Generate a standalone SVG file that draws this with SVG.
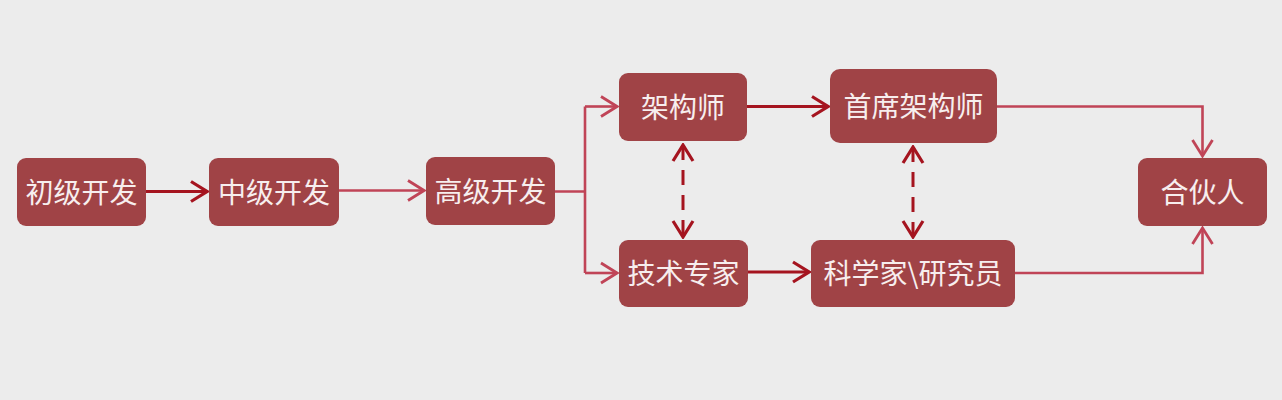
<svg xmlns="http://www.w3.org/2000/svg" width="1282" height="400" viewBox="0 0 1282 400">
<defs>
<style>
.box{fill:#a04346;}
.lbl{font-family:"Noto Sans CJK SC","Noto Sans",sans-serif;font-size:28px;fill:#f7eeee;text-anchor:middle;dominant-baseline:central;}
.dark{fill:none;stroke:#a5141f;stroke-width:3;}
.light{fill:none;stroke:#c04457;stroke-width:2.6;}
.dash{stroke-dasharray:15 10;}
</style>
<marker id="ad" viewBox="-20 -14 22 28" refX="0" refY="0" markerUnits="userSpaceOnUse" markerWidth="22" markerHeight="28" orient="auto-start-reverse">
<path d="M-16,-10 L0,0 L-16,10" fill="none" stroke="#a5141f" stroke-width="3.2"/>
</marker>
<marker id="al" viewBox="-20 -14 22 28" refX="0" refY="0" markerUnits="userSpaceOnUse" markerWidth="22" markerHeight="28" orient="auto-start-reverse">
<path d="M-16,-10 L0,0 L-16,10" fill="none" stroke="#c04457" stroke-width="2.8"/>
</marker>
</defs>
<rect width="1282" height="400" fill="#ececec"/>
<g id="connectors">
<path class="dark" d="M146,191.5 H207" marker-end="url(#ad)"/>
<path class="light" d="M339,190.5 H424" marker-end="url(#al)"/>
<path class="light" d="M555,191.5 H585 M585,106.5 V273"/>
<path class="light" d="M585,106.5 H617" marker-end="url(#al)"/>
<path class="light" d="M585,273 H617" marker-end="url(#al)"/>
<path class="dark" d="M747,106.5 H828" marker-end="url(#ad)"/>
<path class="dark" d="M748,272 H809" marker-end="url(#ad)"/>
<path class="dark dash" d="M683,145 V237" marker-start="url(#ad)" marker-end="url(#ad)"/>
<path class="dark dash" d="M913,147 V237" marker-start="url(#ad)" marker-end="url(#ad)"/>
<path class="light" d="M997,106.5 H1202.5 V156" marker-end="url(#al)"/>
<path class="light" d="M1015,273 H1202.5 V228" marker-end="url(#al)"/>
</g>
<g id="n1"><rect class="box" x="17" y="158" width="129" height="68" rx="9"/><text class="lbl" x="81.5" y="191">初级开发</text></g>
<g id="n2"><rect class="box" x="209" y="158" width="130" height="68" rx="9"/><text class="lbl" x="274" y="191">中级开发</text></g>
<g id="n3"><rect class="box" x="426" y="157" width="129" height="68" rx="9"/><text class="lbl" x="490.5" y="190">高级开发</text></g>
<g id="n4"><rect class="box" x="619" y="73" width="128" height="68" rx="9"/><text class="lbl" x="683" y="106">架构师</text></g>
<g id="n5"><rect class="box" x="619" y="240" width="129" height="67" rx="9"/><text class="lbl" x="683.5" y="272">技术专家</text></g>
<g id="n6"><rect class="box" x="830" y="69" width="167" height="74" rx="10"/><text class="lbl" x="913.5" y="105">首席架构师</text></g>
<g id="n7"><rect class="box" x="811" y="240" width="204" height="67" rx="9"/><text class="lbl" x="913" y="272">科学家\研究员</text></g>
<g id="n8"><rect class="box" x="1138" y="158" width="129" height="68" rx="9"/><text class="lbl" x="1202.5" y="191">合伙人</text></g>
</svg>
